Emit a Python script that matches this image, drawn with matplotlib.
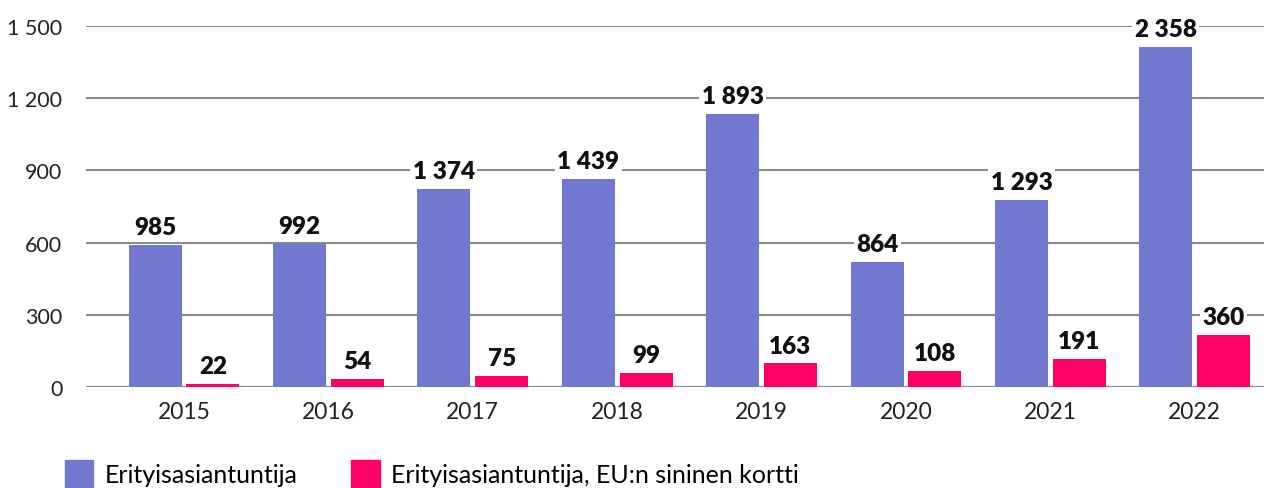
import matplotlib
matplotlib.use("Agg")
import matplotlib.pyplot as plt
from matplotlib.patches import Patch
import numpy as np

years = ["2015", "2016", "2017", "2018", "2019", "2020", "2021", "2022"]
experts = [985, 992, 1374, 1439, 1893, 864, 1293, 2358]
blue_card = [22, 54, 75, 99, 163, 108, 191, 360]
series_names = ["Erityisasiantuntija", "Erityisasiantuntija, EU:n sininen kortti"]
ytick_positions = [0, 500, 1000, 1500, 2000, 2500]
ytick_labels = ["0", "300", "600", "900", "1 200", "1 500"]

plt.rcParams['font.family'] = ['Lato', 'DejaVu Sans']

W, H = 1264, 489
fig = plt.figure(figsize=(W/100, H/100), dpi=100)
ax = fig.add_axes([86/W, (H-388)/H, (W-86)/W, 361/H])

x = np.arange(len(years))
bw = 0.367
off = 0.2
c_blue = "#7277CF"
c_red = "#FF0066"
b1 = ax.bar(x - off, experts, bw, color=c_blue, zorder=2)
b2 = ax.bar(x + off, blue_card, bw, color=c_red, zorder=2)

ax.set_xlim(-0.679, 7.48)
ax.set_ylim(0, 2500)
ax.set_yticks(ytick_positions)
ax.set_yticklabels(ytick_labels, fontsize=15.5, color="#222222")
ax.set_xticks(x)
ax.set_xticklabels(years, fontsize=16.5, color="#222222")
ax.tick_params(axis='both', length=0)
ax.tick_params(axis='y', pad=17)
ax.tick_params(axis='x', pad=10)
ax.yaxis.grid(True, color="#8a8a8a", linewidth=1.5, zorder=0)
ax.set_axisbelow(True)
for s in ax.spines.values():
    s.set_visible(False)

def fmt(v):
    return f"{v:,}".replace(",", " ")

for bars, vals in ((b1, experts), (b2, blue_card)):
    for r, v in zip(bars, vals):
        ax.annotate(fmt(v), (r.get_x() + r.get_width()/2, r.get_height()),
                    xytext=(0, 5), textcoords="offset points",
                    ha="center", va="bottom", fontsize=17.5, fontweight="heavy",
                    color="#111111", zorder=5,
                    bbox=dict(boxstyle="square,pad=0.1", fc="white", ec="none"))

handles = [Patch(color=c_blue), Patch(color=c_red)]
fig.legend(handles, series_names, loc="lower left",
           bbox_to_anchor=(42/W, -22/H), ncol=2, frameon=False,
           fontsize=18, handlelength=1.15, handleheight=1.3,
           columnspacing=2.15, handletextpad=0.45)

fig.savefig("out.png", dpi=100)
